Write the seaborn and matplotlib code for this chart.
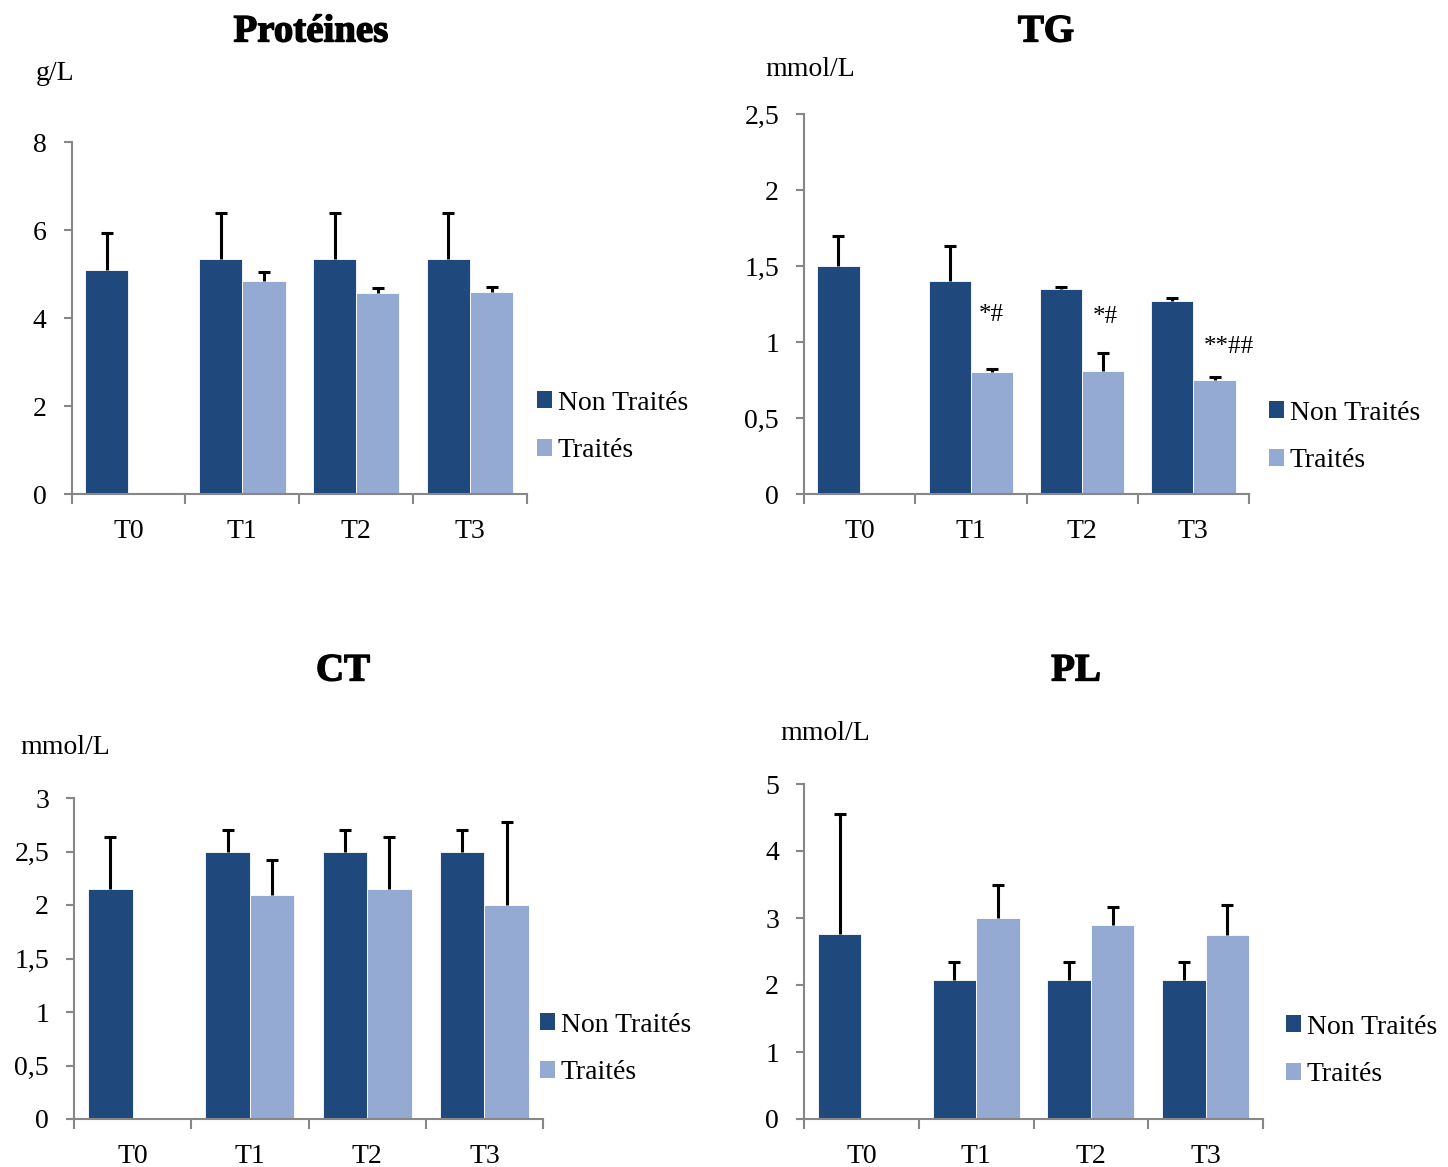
import numpy as np
import pandas as pd
import matplotlib
matplotlib.use("Agg")
import matplotlib.pyplot as plt
import matplotlib.patheffects as pe
from matplotlib.patches import Patch
from matplotlib.ticker import FixedLocator
import seaborn as sns

# ---- data -------------------------------------------------------------
temps = ["T0", "T1", "T2", "T3"]
groupes = ["Non Traités", "Traités"]

prot_nt = [5.10, 5.35, 5.35, 5.35]
prot_nt_err = [0.83, 1.03, 1.03, 1.03]
prot_t = [np.nan, 4.83, 4.57, 4.59]
prot_t_err = [np.nan, 0.22, 0.11, 0.11]

tg_nt = [1.50, 1.40, 1.35, 1.27]
tg_nt_err = [0.20, 0.23, 0.01, 0.02]
tg_t = [np.nan, 0.80, 0.81, 0.75]
tg_t_err = [np.nan, 0.02, 0.12, 0.02]

ct_nt = [2.15, 2.50, 2.50, 2.50]
ct_nt_err = [0.49, 0.20, 0.20, 0.20]
ct_t = [np.nan, 2.09, 2.15, 2.00]
ct_t_err = [np.nan, 0.33, 0.49, 0.78]

pl_nt = [2.76, 2.07, 2.07, 2.07]
pl_nt_err = [1.79, 0.28, 0.28, 0.28]
pl_t = [np.nan, 3.00, 2.90, 2.75]
pl_t_err = [np.nan, 0.50, 0.26, 0.45]

prot_ticks = [0, 2, 4, 6, 8]
prot_ticklabels = ["0", "2", "4", "6", "8"]
tg_ticks = [0, 0.5, 1, 1.5, 2, 2.5]
tg_ticklabels = ["0", "0,5", "1", "1,5", "2", "2,5"]
ct_ticks = [0, 0.5, 1, 1.5, 2, 2.5, 3]
ct_ticklabels = ["0", "0,5", "1", "1,5", "2", "2,5", "3"]
pl_ticks = [0, 1, 2, 3, 4, 5]
pl_ticklabels = ["0", "1", "2", "3", "4", "5"]

tg_signif = ["*#", "*#", "**##"]
tg_signif_x = [1.18, 2.21, 3.32]
tg_signif_y = [1.18, 1.165, 0.965]

# ---- style ------------------------------------------------------------
sns.set_style("white")
plt.rcParams["font.family"] = ["Liberation Serif", "DejaVu Serif"]
plt.rcParams["text.color"] = "black"
plt.rcParams["xtick.labelcolor"] = "black"
plt.rcParams["ytick.labelcolor"] = "black"

DARK = "#1F497D"
LIGHT = "#95AAD3"
SPINE = "#878787"
FS = 20

W, H = 1448, 1167
fig = plt.figure(figsize=(W / 100, H / 100), dpi=100)


def px_axes(left, right, bottom, top):
    return fig.add_axes([left / W, 1 - bottom / H, (right - left) / W, (bottom - top) / H])


def panel(ax, nt, nt_err, t, t_err, ticks, ticklabels):
    df = pd.DataFrame({
        "Temps": temps * 2,
        "Groupe": [groupes[0]] * 4 + [groupes[1]] * 4,
        "Valeur": list(nt) + list(t),
    })
    sns.barplot(data=df, x="Temps", y="Valeur", hue="Groupe", order=temps,
                hue_order=groupes, palette=[DARK, LIGHT], saturation=1,
                width=0.76, errorbar=None, legend=False, ax=ax,
                edgecolor="white", linewidth=0.6)

    errs = {groupes[0]: nt_err, groupes[1]: t_err}
    for cont, g in zip(ax.containers, groupes):
        xs, ys, es = [], [], []
        for p in cont.patches:
            h = p.get_height()
            if not np.isfinite(h):
                continue
            xc = p.get_x() + p.get_width() / 2
            i = int(round(xc))
            xs.append(xc)
            ys.append(h)
            es.append(errs[g][i])
        xs, ys, es = map(np.array, (xs, ys, es))
        _, caps, _ = ax.errorbar(xs, ys, yerr=[np.zeros_like(es), es], fmt="none",
                                 ecolor="black", elinewidth=2.2, capsize=4.6,
                                 capthick=2.2, zorder=3)
        for c in caps:
            if np.allclose(c.get_ydata(), ys):
                c.set_visible(False)

    ax.set_xlim(-0.5, 3.5)
    ax.set_ylim(ticks[0], ticks[-1])
    ax.set_yticks(ticks)
    ax.set_yticklabels(ticklabels)
    ax.set_xlabel("")
    ax.set_ylabel("")
    ax.xaxis.set_minor_locator(FixedLocator([-0.5, 0.5, 1.5, 2.5, 3.5]))
    ax.tick_params(axis="x", which="major", length=0, pad=18, labelsize=FS,
                   labelcolor="black")
    ax.tick_params(axis="x", which="minor", length=7, width=1.5, color=SPINE,
                   direction="out", bottom=True)
    ax.tick_params(axis="y", which="major", length=6, width=1.5, color=SPINE,
                   direction="out", left=True, pad=12, labelsize=FS,
                   labelcolor="black")
    for s in ["top", "right"]:
        ax.spines[s].set_visible(False)
    for s in ["left", "bottom"]:
        ax.spines[s].set_color(SPINE)
        ax.spines[s].set_linewidth(1.5)
    ax.set_facecolor("white")


def legend(ax, x_left, y_center):
    handles = [Patch(facecolor=DARK, edgecolor="none"),
               Patch(facecolor=LIGHT, edgecolor="none")]
    leg = ax.legend(handles, groupes, loc="center left",
                    bbox_to_anchor=(x_left / W, 1 - y_center / H),
                    bbox_transform=fig.transFigure, frameon=False, fontsize=FS,
                    handlelength=0.55, handleheight=0.55, handletextpad=0.2,
                    labelspacing=0.82, borderpad=0, borderaxespad=0)
    for txt in leg.get_texts():
        txt.set_color("black")


def title(text, x, y):
    fig.text(x / W, 1 - y / H, text, ha="center", va="center", fontsize=28,
             fontweight="heavy", color="black",
             path_effects=[pe.withStroke(linewidth=1.0, foreground="black")])


def unit(text, x, y):
    fig.text(x / W, 1 - y / H, text, ha="left", va="center", fontsize=FS,
             color="black")


# Protéines
ax1 = px_axes(71.5, 527, 494, 142)
panel(ax1, prot_nt, prot_nt_err, prot_t, prot_t_err, prot_ticks, prot_ticklabels)
legend(ax1, 537, 427)
title("Protéines", 311, 32)
unit("g/L", 36, 73)

# TG
ax2 = px_axes(804, 1249, 494, 114)
panel(ax2, tg_nt, tg_nt_err, tg_t, tg_t_err, tg_ticks, tg_ticklabels)
for s, xx, yy in zip(tg_signif, tg_signif_x, tg_signif_y):
    ax2.text(xx, yy, s, ha="center", va="center", fontsize=18, color="black")
legend(ax2, 1269, 437)
title("TG", 1046, 32)
unit("mmol/L", 765, 69)

# CT
ax3 = px_axes(74, 543, 1119, 798)
panel(ax3, ct_nt, ct_nt_err, ct_t, ct_t_err, ct_ticks, ct_ticklabels)
legend(ax3, 540, 1049)
title("CT", 343, 671)
unit("mmol/L", 20, 747)

# PL
ax4 = px_axes(804, 1263, 1119, 784)
panel(ax4, pl_nt, pl_nt_err, pl_t, pl_t_err, pl_ticks, pl_ticklabels)
legend(ax4, 1286, 1051)
title("PL", 1076, 671)
unit("mmol/L", 780, 734)

fig.savefig("out.png", dpi=100, facecolor="white")
